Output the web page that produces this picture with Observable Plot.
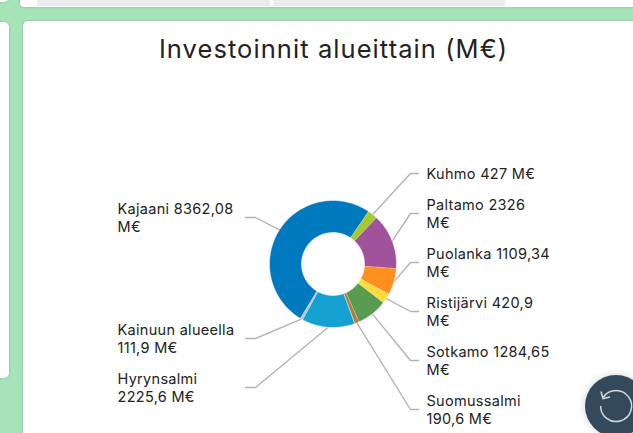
<!DOCTYPE html>
<html lang="fi"><head><meta charset="utf-8">
<script src="https://cdn.jsdelivr.net/npm/d3@7"></script>
<script src="https://cdn.jsdelivr.net/npm/@observablehq/plot@0.6"></script>
<style>
html,body{margin:0;padding:0;width:633px;height:433px;overflow:hidden;background:#a5e3b8;font-family:Inter,sans-serif}
.card{position:absolute;background:#fff;box-shadow:0 0 2px rgba(90,90,90,.45)}
#top{left:20px;top:-8px;width:640px;height:15px;border-radius:0 0 4px 4px}
#g1{position:absolute;left:37px;top:0;width:233px;height:6px;background:#ebebeb}
#g2{position:absolute;left:273px;top:0;width:232px;height:6px;background:#ebebeb}
#tl{left:-10px;top:-8px;width:19px;height:10px;border-radius:0 0 5px 0}
#left{left:-10px;top:22px;width:19px;height:356px;border-radius:0 5px 5px 0}
#main{left:23px;top:21px;width:640px;height:430px;border-radius:5px}
#chart{position:absolute;left:0;top:0}
#chart text{letter-spacing:.3px}
#chart g.title text{letter-spacing:1.07px}
#btn{position:absolute;left:585px;top:375px;width:62px;height:62px;border-radius:50%;background:#34495a;box-shadow:0 0 8px rgba(0,0,0,.18)}
#btn svg{position:absolute;left:0;top:0}
</style></head><body>
<div class="card" id="top"></div><div id="g1"></div><div id="g2"></div>
<div class="card" id="tl"></div><div class="card" id="left"></div><div class="card" id="main"></div>
<div id="chart"></div>
<div id="btn"><svg width="62" height="62" viewBox="0 0 62 62"><path d="M18.5 22 A15.5 15.5 0 1 1 15.6 31" fill="none" stroke="#d5dadd" stroke-width="1.5"/><path d="M16 16.5 L18 23.5 L25 22" fill="none" stroke="#d5dadd" stroke-width="1.5"/></svg></div>
<script>
const title = "Investoinnit alueittain (M€)";
const names = ["Hyrynsalmi","Kainuun alueella","Kajaani","Kuhmo","Paltamo","Puolanka","Ristijärvi","Sotkamo","Suomussalmi"];
const values = [2225.6,111.9,8362.08,427,2326,1109.34,420.9,1284.65,190.6];
const labels = ["Hyrynsalmi\n2225,6 M€","Kainuun alueella\n111,9 M€","Kajaani 8362,08\nM€","Kuhmo 427 M€","Paltamo 2326\nM€","Puolanka 1109,34\nM€","Ristijärvi 420,9\nM€","Sotkamo 1284,65\nM€","Suomussalmi\n190,6 M€"];
const colors = ["#14a0d0","#bcc4cb","#0079bf","#a6c92e","#a0529a","#ff8f1f","#ffdb3b","#5a9c4f","#b07f45"];

// layout of the ring and of the label columns
const cx = 332.5, cy = 263.5, R = 63.5, r = 31.5, startDeg = 160;
const labelMid = [387,338,217,173,213,262,311,360,409];
const total = d3.sum(values);
const pt = (deg, rad) => { const a = deg*Math.PI/180; return [cx+rad*Math.sin(a), cy-rad*Math.cos(a)]; };
const ring = [], leaders = [], texts = [];
let acc = startDeg;
names.forEach((name,i)=>{
  const span = values[i]/total*360, a0 = acc, a1 = acc+span; acc = a1;
  const steps = Math.max(2, Math.ceil(span));
  for (let s=0;s<=steps;s++){ const [x,y]=pt(a0+span*s/steps,R); ring.push({name,x,y}); }
  for (let s=steps;s>=0;s--){ const [x,y]=pt(a0+span*s/steps,r); ring.push({name,x,y}); }
  const mid = (a0+a1)/2;
  const onRight = Math.sin(mid*Math.PI/180)>0;
  const [sx,sy] = pt(mid,R);
  const y = labelMid[i];
  const ex = onRight?410:255, tx = onRight?418:245;
  leaders.push({name,x:sx,y:sy},{name,x:ex,y},{name,x:tx,y});
  texts.push({x:onRight?426:117,y,text:labels[i]});
});
const plot = Plot.plot({
  width:633,height:433,margin:0,
  style:{background:"transparent",overflow:"visible"},
  x:{domain:[0,633],range:[0,633],axis:null},
  y:{domain:[0,433],range:[0,433],axis:null},
  color:{domain:names,range:colors},
  marks:[
    Plot.line(leaders,{x:"x",y:"y",z:"name",stroke:"#b3b3b3",strokeWidth:1.4,curve:"linear"}),
    Plot.line(ring,{x:"x",y:"y",z:"name",fill:"name",stroke:"#fff",strokeWidth:0.5,curve:"linear"}),
    Plot.text(texts,{x:"x",y:"y",text:"text",textAnchor:"start",lineAnchor:"middle",lineHeight:1.24,fontSize:14.5,fontFamily:"Inter",fill:"#222"}),
    Plot.text([title],{x:()=>333,y:()=>49,text:d=>d,fontSize:25.5,fontFamily:"Inter",fill:"#222",lineAnchor:"middle",className:"title"})
  ]
});
document.getElementById("chart").append(plot);
</script></body></html>
